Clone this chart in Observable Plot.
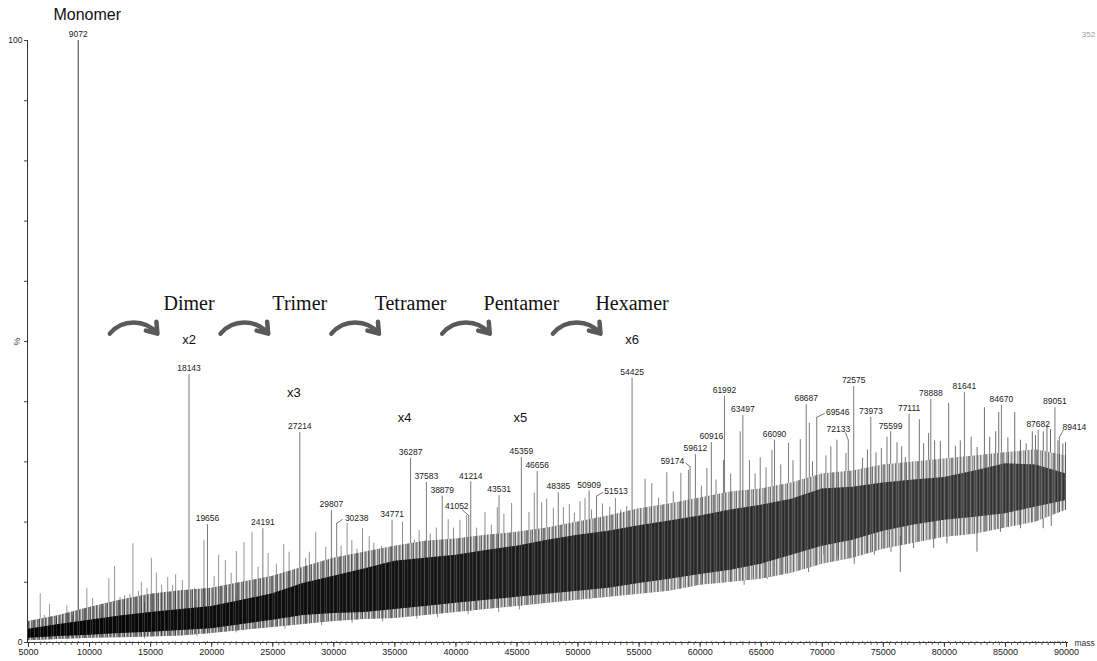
<!DOCTYPE html>
<html><head><meta charset="utf-8">
<script src="https://cdn.jsdelivr.net/npm/d3@7"></script>
<script src="https://cdn.jsdelivr.net/npm/@observablehq/plot@0.6"></script>
<style>body{margin:0;background:#fff;} #chart svg{display:block}</style>
</head><body><div id="chart"></div>
<script>
// ---------- data ----------
const envMass   = [5000,7500,10000,12500,15000,17500,20000,22500,25000,27500,30000,32500,35000,37500,40000,42500,45000,47500,50000,52500,55000,57500,60000,62500,65000,67500,70000,72500,75000,77500,80000,82500,85000,87500,90000];
const coreLow   = [0.7,1.0,1.2,1.5,1.7,2.0,2.3,3.0,3.7,4.5,4.8,5.0,5.5,6.0,6.5,7.0,7.5,8.0,8.5,9.0,9.8,10.5,11.3,12.0,13.0,14.5,16.0,17.0,18.5,19.5,20.3,20.8,21.4,22.5,23.6];
const coreHigh  = [2.2,3.0,3.7,4.4,5.0,5.5,6.0,7.0,8.1,9.8,11.0,12.2,13.5,14.0,14.5,15.3,16.0,17.0,17.8,18.5,19.4,20.2,21.0,22.0,22.8,23.8,25.5,25.8,26.5,27.0,27.4,28.5,29.7,29.5,28.0];
const outerLow  = [0.3,0.5,0.7,0.8,0.9,1.1,1.5,2.0,2.5,3.0,3.5,3.8,4.0,4.5,5.0,5.5,6.0,6.5,7.0,7.5,8.0,8.5,9.5,10.0,10.5,11.5,13.0,14.0,15.5,16.5,17.5,18.0,19.0,20.0,22.0];
const outerHigh = [3.5,4.5,5.8,7.0,8.0,8.6,9.0,10.0,11.0,12.5,14.0,15.0,16.0,16.8,17.2,17.8,18.3,19.0,20.0,21.0,22.2,23.0,24.0,25.0,25.5,26.5,28.0,28.5,29.5,30.0,30.5,31.0,31.5,32.0,31.0];

// labelled peaks (mass, relative intensity %)
const peakMass = [9072,18143,19656,24191,27214,29807,30238,34771,36287,37583,38879,41052,41214,43531,45359,46656,48385,50909,51513,54425,59174,59612,60916,61992,63497,66090,68687,69546,72133,72575,73973,75599,77111,78888,81641,84670,87682,89051,89414];
const peakInt  = [100,44.5,19.6,18.9,34.9,21.9,19.8,20.3,30.6,26.6,24.3,21.1,26.7,24.4,30.7,28.4,24.9,25.2,24.3,43.9,29.2,31.2,33.2,40.9,37.7,33.6,39.5,37.4,33.6,42.5,37.4,35.0,37.9,40.4,41.5,39.4,35.2,39.0,34.1];

// unlabelled spikes (mass, %)
const spikeMass = [5960,6300,6720,7300,7700,8140,8600,9780,10250,10800,11200,11580,12050,12500,12870,13300,13550,14000,14240,14700,15060,15470,15900,16400,16800,17050,17600,18600,19370,20200,20570,21120,21600,22020,22650,23300,23800,24620,25300,25900,26340,27700,28000,28520,29340,30600,31090,31480,31900,32350,32900,33280,33900,35630,36600,36990,37900,38400,39370,39800,40330,40880,41700,42380,42900,43390,43930,44560,45980,46420,47020,47430,47980,48800,49290,49700,50160,50570,51100,52000,52600,53060,53500,53990,55490,56040,56600,57270,57800,58420,59040,60100,60550,61300,61910,62500,63280,64040,64500,64920,65400,65880,66600,67240,67600,68200,68940,69200,70300,70700,71200,71940,73300,73700,74400,74840,75300,76120,76500,76800,77950,78300,78710,79200,79670,80350,80900,81300,82190,82680,83280,83710,84200,84450,85200,85760,86230,86700,87200,87460,88100,88400,88690,89300,89700,89920];
const spikeInt  = [8.1,4.5,6.3,4.0,3.8,6.1,4.5,9.0,7.3,5.5,6.0,10.6,12.6,7.5,7.8,8.0,16.4,8.5,10.0,9.0,14.0,11.5,9.5,10.8,9.5,11.3,10.3,9.0,16.9,11.0,14.5,13.6,11.5,15.1,16.6,18.3,12.5,14.8,13.0,16.3,15.0,14.0,15.0,18.3,15.8,16.0,19.8,16.9,15.5,18.9,17.6,16.5,16.0,20.0,17.0,18.6,18.0,19.0,20.4,19.0,20.3,21.1,19.0,21.6,19.5,22.4,21.3,23.1,21.6,24.8,23.2,23.8,22.3,22.4,22.9,21.5,23.4,23.9,22.0,23.0,22.5,23.9,22.0,22.6,27.1,26.4,24.0,28.2,25.0,28.1,28.6,26.0,28.9,27.0,30.2,28.0,35.0,30.2,28.0,30.7,29.0,31.9,29.5,33.1,30.2,33.7,36.4,30.0,31.0,32.5,33.6,31.4,30.6,32.0,31.5,32.2,34.1,33.2,32.5,30.7,37.0,33.0,34.7,33.5,33.4,39.7,32.6,33.5,34.1,32.4,39.0,34.1,35.0,38.2,34.0,38.2,33.6,33.0,35.0,34.4,35.0,36.0,35.4,33.5,33.0,33.2];

// downward dips below the dense trace (mass, %)
const dipMass = [14500,18800,22000,26000,29000,31500,34000,36800,38500,41000,43500,45200,47000,50500,53500,56700,58500,60200,62000,63600,65500,67000,68880,70110,71290,72620,74260,75630,76390,77480,79120,80210,82670,84590,86230,87190,88090,88750];
const dipInt  = [0.6,1.0,1.6,2.2,2.8,3.2,3.4,3.9,4.1,4.6,5.0,5.4,7.0,8.0,9.0,10.0,10.5,10.5,11.0,9.5,10.5,11.5,11.6,14.5,14.3,13.0,14.5,15.0,11.6,15.6,15.6,16.4,15.0,18.3,18.9,20.3,18.9,19.3];

// oligomer annotation
const oligoMass  = [9072,18143,27214,36287,45359,54425];
const oligoNames = ["Monomer","Dimer","Trimer","Tetramer","Pentamer","Hexamer"];
const multLabels = ["x2","x3","x4","x5","x6"];
const multLevel  = [50.2,41.4,37.4,37.4,50.2];

const xTickLabels = [5000,10000,15000,20000,25000,30000,35000,40000,45000,50000,55000,60000,65000,70000,75000,80000,85000,90000];
const yTickLabels = [0,100];

// ---------- build rows ----------
const env   = envMass.map((m,i)=>({m, cl:coreLow[i], ch:coreHigh[i], ol:outerLow[i], oh:outerHigh[i]}));
const peaks = peakMass.map((m,i)=>({m, h:peakInt[i]}));
const spikes= spikeMass.map((m,i)=>({m, h:spikeInt[i]}));
const dips  = dipMass.map((m,i)=>({m, h:dipInt[i]}));

const K = 85000/1038;   // mass units per pixel
const P = 100/602;      // % per pixel
// label offsets (px) for labels with leader lines: [labelDx, labelDy, leaderStartDx, leaderStartDy]
const shift = {
  30238:[20,-5,6,-4], 41052:[-12,-9,-7,-6], 51513:[19.5,-5,6.5,-4], 59174:[-17.6,-5,-4.6,-4],
  69546:[21,-5,8,-4], 72133:[-10,-11,-3,-8], 89414:[15,-10,4,-7]
};
const plain = peaks.filter(d=>!shift[d.m]);
const moved = peaks.filter(d=>shift[d.m]);
// small per-label nudges (px) for the multiplier texts
const multDx = [0,-6,-6,-1,0];

const font = "Liberation Sans, Arial, sans-serif";
const arrows = oligoMass.slice(0,-1).map((m,i)=>({a:m, b:oligoMass[i+1]}));

const chart = Plot.plot({
  width:1097, height:661,
  marginLeft:28, marginRight:31, marginTop:40, marginBottom:19,
  x:{domain:[5000,90000], axis:null},
  y:{domain:[0,100], axis:null},
  style:{fontFamily:font, background:"#fff", color:"#222", overflow:"visible"},
  marks:[
    Plot.ruleX(spikes, {x:"m", y1:0, y2:"h", stroke:"url(#gSpike)", strokeWidth:1}),
    Plot.ruleX(peaks.filter(d=>d.m!==9072), {x:"m", y1:0, y2:"h", stroke:"#7a7a7a", strokeWidth:1}),
    Plot.ruleX(peaks.filter(d=>d.m===9072), {x:"m", y1:0, y2:"h", stroke:"#3a3a3a", strokeWidth:1}),
    // white mask below the trace so spikes rise from the trace
    Plot.areaY(env, {x:"m", y1:0.15, y2:"ol", fill:"#fff"}),
    Plot.ruleX(dips, {x:"m", y1:"h", y2:d=>d.h+6, stroke:"url(#gSpike)", strokeWidth:1}),
    Plot.areaY(env, {x:"m", y1:"ol", y2:"oh", fill:"url(#gOuter)", fillOpacity:0.6}),
    Plot.areaY(env, {x:"m", y1:"ol", y2:"oh", fill:"url(#pOuter)"}),
    Plot.areaY(env, {x:"m", y1:"cl", y2:"ch", fill:"url(#gCore)"}),
    Plot.areaY(env, {x:"m", y1:"cl", y2:"ch", fill:"url(#pCore)"}),
    // peak labels
    Plot.text(plain, {x:"m", y:"h", text:d=>String(d.m), dy:-6, fontSize:8.5, fill:"#222"}),
    Plot.text(moved, {x:d=>d.m+shift[d.m][0]*K, y:d=>d.h-shift[d.m][1]*P, text:d=>String(d.m), fontSize:8.5, fill:"#222"}),
    Plot.link(moved, {x1:d=>d.m+shift[d.m][2]*K, y1:d=>d.h-shift[d.m][3]*P, x2:"m", y2:"h", stroke:"#555", strokeWidth:0.8}),
    // axes
    Plot.ruleY([0], {x1:5000-1*K, x2:90000+2*K, stroke:"#333", strokeWidth:1}),
    Plot.ruleX([5000], {y1:0, y2:100, dx:-1, stroke:"#333", strokeWidth:1}),
    Plot.ruleX(d3.range(5000, 90001, 500), {x:d=>d, y1:0, y2:-0.5, stroke:"#444", strokeWidth:0.8}),
    Plot.ruleX(xTickLabels, {x:d=>d, y1:0, y2:-0.8, stroke:"#333", strokeWidth:1}),
    Plot.ruleY(d3.range(0,101,10), {y:d=>d, x1:5000-1*K, x2:5000-4*K, stroke:"#444", strokeWidth:1}),
    Plot.text(xTickLabels, {x:d=>d, y:0, dy:10, text:d=>String(d), fontSize:9, fill:"#222"}),
    Plot.text(yTickLabels, {x:5000, y:d=>d, dx:-6, textAnchor:"end", text:d=>String(d), fontSize:8.5, fill:"#222"}),
    Plot.text(["%"], {x:5000, y:50, dx:-11, rotate:-90, text:d=>d, fontSize:9, fill:"#333"}),
    Plot.text(["mass"], {x:90000+8*K, y:0, dy:1, textAnchor:"start", text:d=>d, fontSize:8.5, fill:"#333"}),
    Plot.text(["352"], {x:90000+22*K, y:101, text:d=>d, fontSize:8, fill:"#999"}),
    // oligomer annotation
    Plot.text([oligoNames[0]], {x:oligoMass[0], y:104.2, dx:9, text:d=>d, fontSize:16, fill:"#111"}),
    Plot.text(oligoNames.slice(1), {x:(d,i)=>oligoMass[i+1], y:56.3, text:d=>d, fontSize:20, fill:"#111", fontFamily:"Liberation Serif, Times New Roman, serif"}),
    Plot.text(multLabels, {x:(d,i)=>oligoMass[i+1]+multDx[i]*K, y:(d,i)=>multLevel[i], text:d=>d, fontSize:13, fill:"#111"}),
    Plot.arrow(arrows, {x1:d=>(d.a+d.b)/2-1950, x2:d=>(d.a+d.b)/2+1950, y1:51.3, y2:51.3, bend:50, stroke:"#5a5a5a", strokeWidth:4.5, headLength:4, headAngle:70})
  ]
});
const defs = d3.select(chart).insert("defs", ":first-child");
function grad(id, stops){
  const g = defs.append("linearGradient").attr("id", id).attr("gradientUnits","userSpaceOnUse")
    .attr("x1",28).attr("y1",0).attr("x2",1066).attr("y2",0);
  stops.forEach(([o,c])=>g.append("stop").attr("offset",o).attr("stop-color",c));
}
function pattern(id, w, lines){
  const p = defs.append("pattern").attr("id", id).attr("patternUnits","userSpaceOnUse")
    .attr("width", w).attr("height", 6);
  lines.forEach(([x,c,o])=>p.append("rect").attr("x",x).attr("y",0).attr("width",1).attr("height",6).attr("fill",c).attr("fill-opacity",o));
}
grad("gCore",  [[0,"#060606"],[0.35,"#161616"],[0.6,"#303030"],[0.8,"#3e3e3e"],[1,"#484848"]]);
grad("gOuter", [[0,"#3a3a3a"],[0.35,"#666"],[0.65,"#8a8a8a"],[1,"#9a9a9a"]]);
grad("gSpike", [[0,"#9a9a9a"],[0.5,"#8a8a8a"],[1,"#6a6a6a"]]);
pattern("pOuter", 17, [[0,"#000",0.3],[2,"#fff",0.6],[3,"#000",0.2],[5,"#000",0.4],[6,"#fff",0.7],[8,"#000",0.25],[10,"#fff",0.5],[11,"#000",0.35],[13,"#fff",0.65],[14,"#000",0.15],[16,"#000",0.3]]);
pattern("pCore", 13, [[1,"#fff",0.16],[3,"#000",0.3],[4,"#fff",0.1],[6,"#000",0.25],[8,"#fff",0.2],[10,"#000",0.3],[12,"#fff",0.12]]);
document.getElementById("chart").appendChild(chart);
</script>
</body></html>
